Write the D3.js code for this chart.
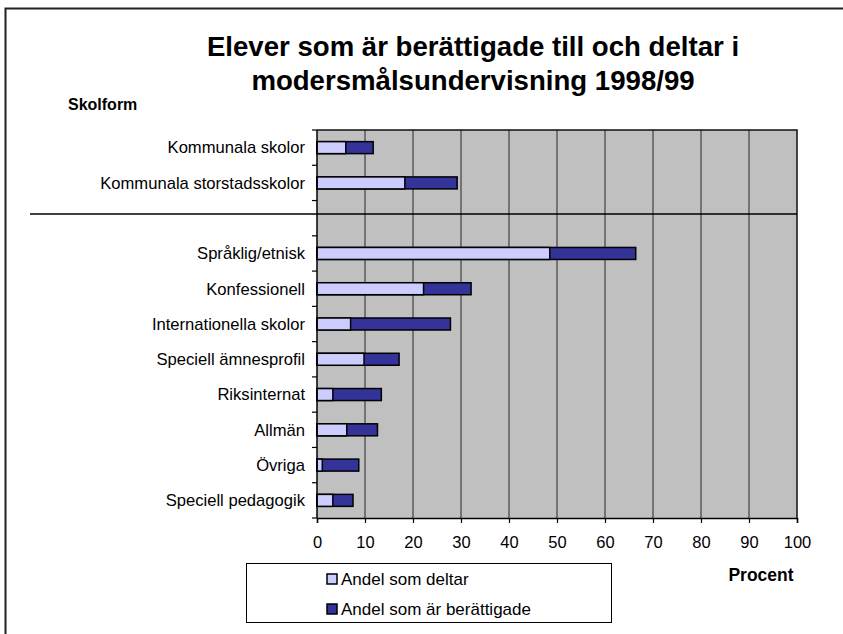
<!DOCTYPE html>
<html>
<head>
<meta charset="utf-8">
<script src="https://cdn.jsdelivr.net/npm/d3@7"></script>
<style>
  html, body { margin: 0; padding: 0; background: #fff; }
  svg { display: block; font-family: "Liberation Sans", Arial, sans-serif; }
</style>
</head>
<body>
<svg id="chart" width="843" height="634"></svg>
<script>
// ---- Data ----
const categories = [
  "Kommunala skolor",
  "Kommunala storstadsskolor",
  "",
  "Språklig/etnisk",
  "Konfessionell",
  "Internationella skolor",
  "Speciell ämnesprofil",
  "Riksinternat",
  "Allmän",
  "Övriga",
  "Speciell pedagogik"
];
// Andel som deltar (%)
const deltar = [6.0, 18.3, null, 48.5, 22.2, 7.0, 9.8, 3.3, 6.2, 1.1, 3.3];
// Andel som är berättigade (%)
const berattigade = [11.7, 29.2, null, 66.4, 32.1, 27.8, 17.1, 13.4, 12.6, 8.7, 7.5];
const xTicks = [0, 10, 20, 30, 40, 50, 60, 70, 80, 90, 100];
const seriesNames = ["Andel som deltar", "Andel som är berättigade"];
const titleLines = ["Elever som är berättigade till och deltar i", "modersmålsundervisning 1998/99"];

// ---- Layout ----
const svg = d3.select("#chart");
const plot = { left: 317, right: 797, top: 130, bottom: 518 };
const colors = { deltar: "#ccccff", ber: "#333399" };

// frame (left + top visible)
svg.append("path")
  .attr("d", "M5.5,634 L5.5,8.5 L843,8.5")
  .attr("fill", "none").attr("stroke", "#222").attr("stroke-width", 2);

// title
svg.append("text")
  .attr("text-anchor", "middle")
  .attr("font-weight", "bold").attr("font-size", 27.6)
  .selectAll("tspan").data(titleLines).join("tspan")
  .attr("x", 473).attr("y", (d, i) => 56 + i * 34)
  .text(d => d);

svg.append("text")
  .attr("x", 68).attr("y", 110)
  .attr("font-weight", "bold").attr("font-size", 16)
  .text("Skolform");

const x = d3.scaleLinear().domain([0, 100]).range([plot.left, plot.right]);
const y = d3.scaleBand().domain(categories).range([plot.top, plot.bottom]).paddingInner(0).paddingOuter(0);

// plot background
svg.append("rect")
  .attr("x", plot.left).attr("y", plot.top)
  .attr("width", plot.right - plot.left).attr("height", plot.bottom - plot.top)
  .attr("fill", "#c0c0c0");

// gridlines
svg.append("g").selectAll("line").data(xTicks.filter(t => t > 0 && t < 100)).join("line")
  .attr("x1", d => x(d)).attr("x2", d => x(d))
  .attr("y1", plot.top).attr("y2", plot.bottom)
  .attr("stroke", "#4a4a4a").attr("stroke-width", 1.3);

// top and right border
svg.append("path")
  .attr("d", `M${plot.left},${plot.top} L${plot.right},${plot.top} L${plot.right},${plot.bottom}`)
  .attr("fill", "none").attr("stroke", "#111").attr("stroke-width", 1.5);

// bars
const rows = categories.map((c, i) => ({ c, d: deltar[i], b: berattigade[i] })).filter(r => r.d != null);
const bw = y.bandwidth() * 0.34;
const bOff = (y.bandwidth() - bw) / 2;
svg.append("g").selectAll("rect").data(rows).join("rect")
  .attr("x", x(0)).attr("y", r => y(r.c) + bOff)
  .attr("width", r => x(r.b) - x(0)).attr("height", bw)
  .attr("fill", colors.ber).attr("stroke", "#000").attr("stroke-width", 1.5);
svg.append("g").selectAll("rect").data(rows).join("rect")
  .attr("x", x(0)).attr("y", r => y(r.c) + bOff)
  .attr("width", r => x(r.d) - x(0)).attr("height", bw)
  .attr("fill", colors.deltar).attr("stroke", "#000").attr("stroke-width", 1.5);

// x axis
const xAxis = d3.axisBottom(x).tickValues(xTicks).tickSize(5).tickPadding(13).tickFormat(d3.format("d"));
const gx = svg.append("g").attr("transform", `translate(0,${plot.bottom})`).call(xAxis);
gx.select(".domain").attr("stroke", "#000").attr("stroke-width", 1.5);
gx.selectAll(".tick line").attr("stroke", "#000").attr("stroke-width", 1.2);
gx.selectAll("text").attr("font-size", 16.5).attr("fill", "#000").attr("font-family", "Liberation Sans, Arial, sans-serif");

// y axis: ticks at category boundaries
const gy = svg.append("g").attr("transform", `translate(${plot.left},0)`);
gy.append("line").attr("x1", 0).attr("x2", 0).attr("y1", plot.top).attr("y2", plot.bottom)
  .attr("stroke", "#000").attr("stroke-width", 1.5);
const bounds = categories.map(c => y(c)).concat([plot.bottom]);
gy.selectAll("line.t").data(bounds).join("line").attr("class", "t")
  .attr("x1", -5).attr("x2", 0).attr("y1", d => d).attr("y2", d => d)
  .attr("stroke", "#000").attr("stroke-width", 1.2);
gy.selectAll("text").data(categories.filter(c => c !== "")).join("text")
  .attr("x", -12).attr("y", c => y(c) + y.bandwidth() / 2)
  .attr("dy", "0.35em").attr("text-anchor", "end")
  .attr("font-size", 16.6).attr("fill", "#000")
  .text(c => c);

// separator line between groups
const sepY = y("") + y.bandwidth() * 0.38;
svg.append("line")
  .attr("x1", 30).attr("x2", plot.right).attr("y1", sepY).attr("y2", sepY)
  .attr("stroke", "#000").attr("stroke-width", 1.5);

// axis title
svg.append("text")
  .attr("x", 761).attr("y", 581)
  .attr("text-anchor", "middle")
  .attr("font-weight", "bold").attr("font-size", 17.5)
  .text("Procent");

// legend
const lg = svg.append("g");
lg.append("rect").attr("x", 246.5).attr("y", 563.5).attr("width", 365).attr("height", 59)
  .attr("fill", "#fff").attr("stroke", "#000").attr("stroke-width", 1);
const legItems = [
  { name: seriesNames[0], color: colors.deltar },
  { name: seriesNames[1], color: colors.ber }
];
const li = lg.selectAll("g.item").data(legItems).join("g").attr("class", "item")
  .attr("transform", (d, i) => `translate(327,${579 + i * 30})`);
li.append("rect").attr("x", 0).attr("y", -5).attr("width", 10).attr("height", 10)
  .attr("fill", d => d.color).attr("stroke", "#000").attr("stroke-width", 1.5);
li.append("text").attr("x", 14).attr("y", 0).attr("dy", "0.35em")
  .attr("font-size", 17).text(d => d.name);
</script>
</body>
</html>
